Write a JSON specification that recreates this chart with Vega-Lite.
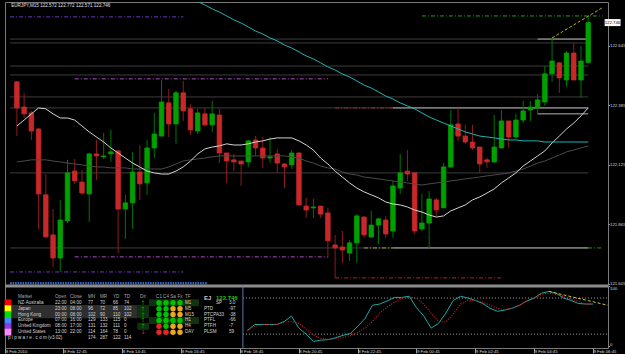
{
"$schema":"https://vega.github.io/schema/vega-lite/v6.json",
"background":"#000000",
"padding":{"left":3,"top":1,"right":0,"bottom":0},
"spacing":1,
"bounds":"flush",
"config":{"font":"Liberation Sans","view":{"stroke":"#7a7a7a","strokeWidth":1},
"axis":{"labelColor":"#d8d8d8","labelFontSize":4.3,"labelFont":"Liberation Sans","tickColor":"#9a9a9a","domain":false,"grid":false,"title":null},
"text":{"font":"Liberation Sans"}},
"resolve":{"scale":{"color":"independent","fill":"independent"}},
"datasets":{
"bars":[
{"t":"2010-02-08T11:00","o":122.487,"h":122.491,"l":122.250,"c":122.373,"m1":122.294,"m2":122.137},
{"t":"2010-02-08T11:15","o":122.377,"h":122.439,"l":122.329,"c":122.347,"m1":122.320,"m2":122.141},
{"t":"2010-02-08T11:30","o":122.351,"h":122.360,"l":122.233,"c":122.272,"m1":122.347,"m2":122.146},
{"t":"2010-02-08T11:45","o":122.281,"h":122.286,"l":121.844,"c":121.997,"m1":122.373,"m2":122.146},
{"t":"2010-02-08T12:00","o":121.993,"h":122.084,"l":121.805,"c":121.809,"m1":122.369,"m2":122.146},
{"t":"2010-02-08T12:15","o":121.818,"h":121.931,"l":121.678,"c":121.717,"m1":122.347,"m2":122.141},
{"t":"2010-02-08T12:30","o":121.717,"h":121.971,"l":121.656,"c":121.883,"m1":122.329,"m2":122.137},
{"t":"2010-02-08T12:45","o":121.879,"h":122.146,"l":121.870,"c":122.089,"m1":122.329,"m2":122.132},
{"t":"2010-02-08T13:00","o":122.097,"h":122.150,"l":122.041,"c":122.054,"m1":122.320,"m2":122.128},
{"t":"2010-02-08T13:15","o":122.049,"h":122.102,"l":121.993,"c":122.001,"m1":122.294,"m2":122.124},
{"t":"2010-02-08T13:30","o":121.997,"h":122.176,"l":121.875,"c":122.172,"m1":122.268,"m2":122.119},
{"t":"2010-02-08T13:45","o":122.172,"h":122.233,"l":122.058,"c":122.163,"m1":122.246,"m2":122.115},
{"t":"2010-02-08T14:00","o":122.159,"h":122.264,"l":122.150,"c":122.163,"m1":122.224,"m2":122.115},
{"t":"2010-02-08T14:15","o":122.172,"h":122.277,"l":122.137,"c":122.181,"m1":122.198,"m2":122.111},
{"t":"2010-02-08T14:30","o":122.185,"h":122.189,"l":121.739,"c":121.931,"m1":122.176,"m2":122.111},
{"t":"2010-02-08T14:45","o":121.931,"h":121.993,"l":121.800,"c":121.958,"m1":122.154,"m2":122.111},
{"t":"2010-02-08T15:00","o":121.958,"h":122.181,"l":121.844,"c":122.093,"m1":122.132,"m2":122.106},
{"t":"2010-02-08T15:15","o":122.093,"h":122.211,"l":121.971,"c":122.041,"m1":122.115,"m2":122.106},
{"t":"2010-02-08T15:30","o":122.045,"h":122.233,"l":121.993,"c":122.198,"m1":122.097,"m2":122.106},
{"t":"2010-02-08T15:45","o":122.198,"h":122.351,"l":122.154,"c":122.259,"m1":122.089,"m2":122.106},
{"t":"2010-02-08T16:00","o":122.250,"h":122.495,"l":122.250,"c":122.399,"m1":122.084,"m2":122.106},
{"t":"2010-02-08T16:15","o":122.395,"h":122.456,"l":122.246,"c":122.303,"m1":122.084,"m2":122.115},
{"t":"2010-02-08T16:30","o":122.303,"h":122.447,"l":122.216,"c":122.439,"m1":122.097,"m2":122.128},
{"t":"2010-02-08T16:45","o":122.439,"h":122.491,"l":122.316,"c":122.360,"m1":122.115,"m2":122.141},
{"t":"2010-02-08T17:00","o":122.369,"h":122.390,"l":122.255,"c":122.277,"m1":122.141,"m2":122.146,"m3":122.855},
{"t":"2010-02-08T17:15","o":122.272,"h":122.369,"l":122.259,"c":122.351,"m1":122.172,"m2":122.150,"m3":122.838},
{"t":"2010-02-08T17:30","o":122.347,"h":122.373,"l":122.290,"c":122.299,"m1":122.194,"m2":122.154,"m3":122.823},
{"t":"2010-02-08T17:45","o":122.299,"h":122.404,"l":122.268,"c":122.347,"m1":122.202,"m2":122.159,"m3":122.806},
{"t":"2010-02-08T18:00","o":122.342,"h":122.369,"l":122.132,"c":122.176,"m1":122.207,"m2":122.163,"m3":122.792},
{"t":"2010-02-08T18:15","o":122.176,"h":122.176,"l":122.045,"c":122.141,"m1":122.216,"m2":122.163,"m3":122.775},
{"t":"2010-02-08T18:30","o":122.146,"h":122.172,"l":122.097,"c":122.137,"m1":122.211,"m2":122.163,"m3":122.758},
{"t":"2010-02-08T18:45","o":122.141,"h":122.141,"l":122.032,"c":122.128,"m1":122.211,"m2":122.163,"m3":122.744},
{"t":"2010-02-08T19:00","o":122.137,"h":122.233,"l":122.115,"c":122.229,"m1":122.216,"m2":122.163,"m3":122.727,"k":26,"d":26},
{"t":"2010-02-08T19:15","o":122.233,"h":122.250,"l":122.163,"c":122.198,"m1":122.224,"m2":122.163,"m3":122.709,"k":36,"d":33},
{"t":"2010-02-08T19:30","o":122.198,"h":122.246,"l":122.111,"c":122.154,"m1":122.229,"m2":122.163,"m3":122.696,"k":36,"d":36},
{"t":"2010-02-08T19:45","o":122.154,"h":122.246,"l":122.132,"c":122.159,"m1":122.237,"m2":122.163,"m3":122.679,"k":36,"d":36},
{"t":"2010-02-08T20:00","o":122.172,"h":122.194,"l":122.089,"c":122.132,"m1":122.242,"m2":122.163,"m3":122.666,"k":36,"d":36},
{"t":"2010-02-08T20:15","o":122.128,"h":122.132,"l":122.023,"c":122.115,"m1":122.242,"m2":122.163,"m3":122.648,"k":41,"d":40},
{"t":"2010-02-08T20:30","o":122.124,"h":122.189,"l":122.106,"c":122.176,"m1":122.242,"m2":122.159,"m3":122.635,"k":50,"d":41},
{"t":"2010-02-08T20:45","o":122.176,"h":122.181,"l":121.944,"c":121.949,"m1":122.229,"m2":122.154,"m3":122.618,"k":30,"d":38},
{"t":"2010-02-08T21:00","o":121.944,"h":121.980,"l":121.892,"c":121.927,"m1":122.211,"m2":122.141,"m3":122.600,"k":20,"d":28},
{"t":"2010-02-08T21:15","o":121.936,"h":121.975,"l":121.892,"c":121.940,"m1":122.189,"m2":122.132,"m3":122.587,"k":8,"d":18},
{"t":"2010-02-08T21:30","o":121.944,"h":121.944,"l":121.892,"c":121.909,"m1":122.154,"m2":122.119,"m3":122.570,"k":10,"d":13},
{"t":"2010-02-08T21:45","o":121.914,"h":121.936,"l":121.717,"c":121.792,"m1":122.128,"m2":122.111,"m3":122.552,"k":11,"d":11},
{"t":"2010-02-08T22:00","o":121.774,"h":121.818,"l":121.630,"c":121.761,"m1":122.097,"m2":122.106,"m3":122.539,"k":14,"d":13},
{"t":"2010-02-08T22:15","o":121.765,"h":121.835,"l":121.695,"c":121.752,"m1":122.071,"m2":122.093,"m3":122.521,"k":18,"d":14},
{"t":"2010-02-08T22:30","o":121.739,"h":121.796,"l":121.704,"c":121.783,"m1":122.045,"m2":122.084,"m3":122.508,"k":21,"d":18},
{"t":"2010-02-08T22:45","o":121.783,"h":121.909,"l":121.695,"c":121.901,"m1":122.023,"m2":122.080,"m3":122.491,"k":33,"d":23},
{"t":"2010-02-08T23:00","o":121.896,"h":121.901,"l":121.805,"c":121.818,"m1":122.006,"m2":122.071,"m3":122.473,"k":46,"d":30},
{"t":"2010-02-08T23:15","o":121.809,"h":121.923,"l":121.805,"c":121.861,"m1":121.993,"m2":122.067,"m3":122.460,"k":68,"d":41},
{"t":"2010-02-08T23:30","o":121.861,"h":121.892,"l":121.778,"c":121.888,"m1":121.980,"m2":122.063,"m3":122.443,"k":70,"d":55},
{"t":"2010-02-08T23:45","o":121.883,"h":121.901,"l":121.805,"c":121.822,"m1":121.962,"m2":122.058,"m3":122.425,"k":75,"d":65},
{"t":"2010-02-09T00:00","o":121.835,"h":122.054,"l":121.805,"c":122.032,"m1":121.953,"m2":122.054,"m3":122.412,"k":81,"d":73},
{"t":"2010-02-09T00:15","o":122.023,"h":122.172,"l":121.997,"c":122.089,"m1":121.949,"m2":122.049,"m3":122.395,"k":81,"d":80},
{"t":"2010-02-09T00:30","o":122.097,"h":122.189,"l":122.054,"c":122.084,"m1":121.940,"m2":122.045,"m3":122.382,"k":83,"d":81},
{"t":"2010-02-09T00:45","o":122.089,"h":122.093,"l":121.822,"c":121.835,"m1":121.927,"m2":122.041,"m3":122.369,"k":64,"d":80},
{"t":"2010-02-09T01:00","o":121.844,"h":121.997,"l":121.835,"c":121.870,"m1":121.918,"m2":122.036,"m3":122.351,"k":50,"d":70},
{"t":"2010-02-09T01:15","o":121.870,"h":122.010,"l":121.757,"c":121.975,"m1":121.905,"m2":122.041,"m3":122.334,"k":30,"d":55},
{"t":"2010-02-09T01:30","o":121.971,"h":121.980,"l":121.901,"c":121.927,"m1":121.896,"m2":122.045,"m3":122.320,"k":38,"d":41},
{"t":"2010-02-09T01:45","o":121.936,"h":122.132,"l":121.936,"c":122.115,"m1":121.901,"m2":122.049,"m3":122.307,"k":55,"d":40},
{"t":"2010-02-09T02:00","o":122.115,"h":122.364,"l":122.111,"c":122.299,"m1":121.923,"m2":122.054,"m3":122.294,"k":76,"d":53},
{"t":"2010-02-09T02:15","o":122.303,"h":122.373,"l":122.229,"c":122.250,"m1":121.936,"m2":122.058,"m3":122.281,"k":83,"d":70},
{"t":"2010-02-09T02:30","o":122.250,"h":122.299,"l":122.216,"c":122.224,"m1":121.949,"m2":122.063,"m3":122.268,"k":80,"d":76},
{"t":"2010-02-09T02:45","o":122.224,"h":122.299,"l":122.189,"c":122.198,"m1":121.971,"m2":122.067,"m3":122.259,"k":76,"d":76},
{"t":"2010-02-09T03:00","o":122.202,"h":122.202,"l":122.089,"c":122.128,"m1":121.984,"m2":122.071,"m3":122.250,"k":71,"d":73},
{"t":"2010-02-09T03:15","o":122.146,"h":122.154,"l":122.111,"c":122.137,"m1":122.001,"m2":122.076,"m3":122.246,"k":63,"d":68},
{"t":"2010-02-09T03:30","o":122.137,"h":122.342,"l":122.132,"c":122.202,"m1":122.019,"m2":122.080,"m3":122.242,"k":58,"d":63},
{"t":"2010-02-09T03:45","o":122.198,"h":122.364,"l":122.198,"c":122.316,"m1":122.045,"m2":122.084,"m3":122.237,"k":60,"d":61},
{"t":"2010-02-09T04:00","o":122.316,"h":122.316,"l":122.198,"c":122.246,"m1":122.067,"m2":122.089,"m3":122.233,"k":63,"d":63},
{"t":"2010-02-09T04:15","o":122.246,"h":122.347,"l":122.237,"c":122.320,"m1":122.089,"m2":122.097,"m3":122.233,"k":68,"d":68},
{"t":"2010-02-09T04:30","o":122.320,"h":122.404,"l":122.307,"c":122.360,"m1":122.119,"m2":122.106,"m3":122.229,"k":75,"d":75},
{"t":"2010-02-09T04:45","o":122.364,"h":122.404,"l":122.316,"c":122.377,"m1":122.141,"m2":122.119,"m3":122.229,"k":80,"d":80},
{"t":"2010-02-09T05:00","o":122.373,"h":122.434,"l":122.347,"c":122.408,"m1":122.163,"m2":122.132,"m3":122.229,"k":88,"d":86},
{"t":"2010-02-09T05:15","o":122.399,"h":122.556,"l":122.382,"c":122.522,"m1":122.185,"m2":122.141,"m3":122.224,"k":91,"d":88},
{"t":"2010-02-09T05:30","o":122.522,"h":122.679,"l":122.487,"c":122.578,"m1":122.220,"m2":122.154,"m3":122.224,"k":88,"d":86},
{"t":"2010-02-09T05:45","o":122.570,"h":122.574,"l":122.439,"c":122.504,"m1":122.250,"m2":122.167,"m3":122.224,"k":80,"d":83},
{"t":"2010-02-09T06:00","o":122.495,"h":122.622,"l":122.465,"c":122.613,"m1":122.281,"m2":122.181,"m3":122.224,"k":76,"d":78},
{"t":"2010-02-09T06:15","o":122.613,"h":122.657,"l":122.495,"c":122.495,"m1":122.307,"m2":122.189,"m3":122.224,"k":71,"d":75},
{"t":"2010-02-09T06:30","o":122.495,"h":122.644,"l":122.417,"c":122.578,"m1":122.338,"m2":122.198,"m3":122.224,"k":70,"d":70},
{"t":"2010-02-09T06:45","o":122.572,"h":122.772,"l":122.571,"c":122.746,"m1":122.373,"m2":122.207,"m3":122.224,"k":70,"d":70}
],
"levels":[{"p":122.674},{"p":122.657},{"p":122.556},{"p":122.517},{"p":122.421},{"p":122.373},{"p":122.089},{"p":121.761}],
"sessions":[
{"s":"United Kingdom","t1":"2010-02-08T10:46","t2":"2010-02-08T16:45","p":122.771},
{"s":"United Kingdom","t1":"2010-02-08T10:46","t2":"2010-02-08T16:45","p":121.656},
{"s":"United States","t1":"2010-02-08T13:00","t2":"2010-02-08T21:45","p":122.500},
{"s":"United States","t1":"2010-02-08T13:00","t2":"2010-02-08T21:45","p":121.722},
{"s":"NZ-Australia","t1":"2010-02-08T22:00","t2":"2010-02-09T00:00","p":122.373},
{"s":"NZ-Australia","t1":"2010-02-08T22:00","t2":"2010-02-09T03:45","p":121.630},
{"s":"Japan","t1":"2010-02-08T23:00","t2":"2010-02-09T00:00","p":121.761},
{"s":"Hong Kong","t1":"2010-02-09T01:00","t2":"2010-02-09T07:15","p":122.775},
{"s":"Hong Kong","t1":"2010-02-09T06:45","t2":"2010-02-09T07:15","p":121.761}
],
"boxes":[
{"t1":"2010-02-09T00:00","t2":"2010-02-09T06:45","p":122.373},
{"t1":"2010-02-09T00:00","t2":"2010-02-09T06:45","p":121.761},
{"t1":"2010-02-09T05:00","t2":"2010-02-09T06:45","p":122.674},
{"t1":"2010-02-09T05:00","t2":"2010-02-09T06:45","p":122.347}
],
"trend":[{"t":"2010-02-09T05:30","p":122.679},{"t":"2010-02-09T07:15","p":122.812}],
"proj":[{"t":"2010-02-09T05:15","v":91},{"t":"2010-02-09T07:15","v":68}],
"osclevels":[{"v":80},{"v":20}],
"markets":[
{"r":1,"market":"NZ-Australia","dir":"up","open_now":false,"dir_flag":false,"sig_flag":true},
{"r":2,"market":"Japan","dir":"up","open_now":true,"dir_flag":true,"sig_flag":false},
{"r":3,"market":"Hong Kong","dir":"up","open_now":true,"dir_flag":true,"sig_flag":false},
{"r":4,"market":"Europe","dir":"up","open_now":false,"dir_flag":false,"sig_flag":true},
{"r":5,"market":"United Kingdom","dir":"up","open_now":false,"dir_flag":true,"sig_flag":false},
{"r":6,"market":"United States","dir":"down","open_now":false,"dir_flag":false,"sig_flag":false}
],
"cells":[
{"r":0,"c":1,"v":"Market"},{"r":0,"c":2,"v":"Open"},{"r":0,"c":3,"v":"Close"},{"r":0,"c":4,"v":"MN"},{"r":0,"c":5,"v":"MR"},{"r":0,"c":6,"v":"YD"},{"r":0,"c":7,"v":"TD"},{"r":0,"c":13,"v":"TF"},
{"r":1,"c":1,"v":"NZ-Australia"},{"r":1,"c":2,"v":"22:00"},{"r":1,"c":3,"v":"04:00"},{"r":1,"c":4,"v":"77"},{"r":1,"c":5,"v":"70"},{"r":1,"c":6,"v":"66"},{"r":1,"c":7,"v":"74"},{"r":1,"c":13,"v":"M1"},
{"r":2,"c":1,"v":"Japan"},{"r":2,"c":2,"v":"23:00"},{"r":2,"c":3,"v":"08:00"},{"r":2,"c":4,"v":"96"},{"r":2,"c":5,"v":"72"},{"r":2,"c":6,"v":"85"},{"r":2,"c":7,"v":"102"},{"r":2,"c":13,"v":"M5"},
{"r":3,"c":1,"v":"Hong Kong"},{"r":3,"c":2,"v":"00:00"},{"r":3,"c":3,"v":"08:00"},{"r":3,"c":4,"v":"102"},{"r":3,"c":5,"v":"90"},{"r":3,"c":6,"v":"110"},{"r":3,"c":7,"v":"102"},{"r":3,"c":13,"v":"M15"},
{"r":4,"c":1,"v":"Europe"},{"r":4,"c":2,"v":"07:00"},{"r":4,"c":3,"v":"16:00"},{"r":4,"c":4,"v":"129"},{"r":4,"c":5,"v":"133"},{"r":4,"c":6,"v":"115"},{"r":4,"c":7,"v":"0"},{"r":4,"c":13,"v":"H1"},
{"r":5,"c":1,"v":"United Kingdom"},{"r":5,"c":2,"v":"08:00"},{"r":5,"c":3,"v":"17:00"},{"r":5,"c":4,"v":"131"},{"r":5,"c":5,"v":"132"},{"r":5,"c":6,"v":"111"},{"r":5,"c":7,"v":"0"},{"r":5,"c":13,"v":"H4"},
{"r":6,"c":1,"v":"United States"},{"r":6,"c":2,"v":"13:00"},{"r":6,"c":3,"v":"22:00"},{"r":6,"c":4,"v":"114"},{"r":6,"c":5,"v":"164"},{"r":6,"c":6,"v":"78"},{"r":6,"c":7,"v":"0"},{"r":6,"c":13,"v":"DAY"},
{"r":7,"c":0,"v":"p i p w a r e . c o m (v3.02)"},{"r":7,"c":4,"v":"174"},{"r":7,"c":5,"v":"287"},{"r":7,"c":6,"v":"122"},{"r":7,"c":7,"v":"114"},
{"r":1,"c":15,"v":"SP"},{"r":1,"c":16,"v":"3.0"},
{"r":2,"c":14,"v":"PTD"},{"r":2,"c":16,"v":"-97"},
{"r":3,"c":14,"v":"PTCPA33"},{"r":3,"c":16,"v":"-38"},
{"r":4,"c":14,"v":"PTFL"},{"r":4,"c":16,"v":"-66"},
{"r":5,"c":14,"v":"PTFH"},{"r":5,"c":16,"v":"-7"},
{"r":6,"c":14,"v":"PLSM"},{"r":6,"c":16,"v":"59"}
],
"hdr":[{"r":0,"c":8,"v":"Dir"},{"r":0,"c":9,"v":"C1"},{"r":0,"c":10,"v":"C4"},{"r":0,"c":11,"v":"Sa"},{"r":0,"c":12,"v":"Fx"}],
"big":[{"r":0.2,"c":14,"v":"EJ"},{"r":0.2,"c":15,"v":"122.746"}],
"signals":[
{"r":1,"c":9,"s":"up"},{"r":1,"c":10,"s":"up"},{"r":1,"c":11,"s":"up"},{"r":1,"c":12,"s":"up"},
{"r":2,"c":9,"s":"up"},{"r":2,"c":10,"s":"up"},{"r":2,"c":11,"s":"flat"},{"r":2,"c":12,"s":"flat"},
{"r":3,"c":9,"s":"up"},{"r":3,"c":10,"s":"up"},{"r":3,"c":11,"s":"flat"},{"r":3,"c":12,"s":"flat"},
{"r":4,"c":9,"s":"up"},{"r":4,"c":10,"s":"up"},{"r":4,"c":11,"s":"up"},{"r":4,"c":12,"s":"up"},
{"r":5,"c":9,"s":"down"},{"r":5,"c":10,"s":"up"},{"r":5,"c":11,"s":"flat"},{"r":5,"c":12,"s":"flat"},
{"r":6,"c":9,"s":"down"},{"r":6,"c":10,"s":"down"},{"r":6,"c":11,"s":"flat"},{"r":6,"c":12,"s":"flat"}
]
},
"vconcat":[
{
"width":603,"height":283,
"layer":[
{"data":{"name":"levels"},"mark":{"type":"rule","color":"#3d3d3d","strokeWidth":1},
"encoding":{
"x":{"datum":{"year":2010,"month":2,"date":8,"hours":10,"minutes":45,"seconds":43},"type":"temporal","scale":{"domain":[{"year":2010,"month":2,"date":8,"hours":10,"minutes":45,"seconds":43},{"year":2010,"month":2,"date":9,"hours":7,"minutes":15,"seconds":36}],"nice":false},"axis":null},
"x2":{"datum":{"year":2010,"month":2,"date":9,"hours":6,"minutes":45}},
"y":{"field":"p","type":"quantitative","scale":{"domain":[121.599,122.836],"nice":false,"zero":false},
"axis":{"orient":"right","values":[121.605,121.670,121.735,121.800,121.865,121.930,121.995,122.060,122.125,122.190,122.255,122.320,122.385,122.450,122.515,122.580,122.645,122.710,122.775],"format":".3f","tickSize":1.5,"labelPadding":0,"labelOverlap":false,"labelBound":false,"labelFlush":false}}}},
{"data":{"name":"sessions"},"mark":{"type":"rule","strokeWidth":1,"strokeDash":[4,2,1,2]},
"encoding":{"x":{"field":"t1","type":"temporal"},"x2":{"field":"t2"},"y":{"field":"p","type":"quantitative"},
"color":{"field":"s","type":"nominal","legend":null,"scale":{"domain":["NZ-Australia","Japan","Hong Kong","Europe","United Kingdom","United States"],"range":["#a82828","#a8a020","#20a020","#3070d0","#6a3ac8","#b04cc8"]}}}},
{"data":{"name":"boxes"},"mark":{"type":"rule","color":"#b4b4b4","strokeWidth":1},
"encoding":{"x":{"field":"t1","type":"temporal"},"x2":{"field":"t2"},"y":{"field":"p","type":"quantitative"}}},
{"data":{"values":[{}]},"mark":{"type":"rule","color":"#3a6cd0","strokeWidth":2.5,"strokeDash":[1.5,1]},
"encoding":{"x":{"datum":{"year":2010,"month":2,"date":8,"hours":10,"minutes":46},"type":"temporal"},"x2":{"datum":{"year":2010,"month":2,"date":8,"hours":17,"minutes":36}},"y":{"datum":121.607,"type":"quantitative"}}},
{"data":{"name":"bars"},"mark":{"type":"rule","strokeWidth":1},
"encoding":{"x":{"field":"t","type":"temporal"},"y":{"field":"l","type":"quantitative"},"y2":{"field":"h"},
"color":{"condition":{"test":"datum.c >= datum.o","value":"#007400"},"value":"#8c1c1c"}}},
{"data":{"name":"bars"},"mark":{"type":"bar","size":4.5,"strokeWidth":0.8},
"encoding":{"x":{"field":"t","type":"temporal"},"y":{"field":"o","type":"quantitative"},"y2":{"field":"c"},
"fill":{"condition":{"test":"datum.c >= datum.o","value":"#00a000"},"value":"#c82828"},
"stroke":{"condition":{"test":"datum.c >= datum.o","value":"#00a000"},"value":"#c82828"}}},
{"data":{"name":"bars"},"mark":{"type":"line","color":"#4a4a4a","strokeWidth":1},
"encoding":{"x":{"field":"t","type":"temporal"},"y":{"field":"m2","type":"quantitative"}}},
{"data":{"name":"bars"},"mark":{"type":"line","color":"#d4d4d4","strokeWidth":1},
"encoding":{"x":{"field":"t","type":"temporal"},"y":{"field":"m1","type":"quantitative"}}},
{"data":{"name":"bars"},"mark":{"type":"line","color":"#1eb4b4","strokeWidth":1,"clip":true},
"encoding":{"x":{"field":"t","type":"temporal"},"y":{"field":"m3","type":"quantitative"}}},
{"data":{"name":"trend"},"mark":{"type":"line","color":"#b8b81e","strokeWidth":1,"strokeDash":[3,2]},
"encoding":{"x":{"field":"t","type":"temporal"},"y":{"field":"p","type":"quantitative"}}},
{"data":{"values":[{}]},"mark":{"type":"text","align":"left","baseline":"middle","fontSize":4.6,"color":"#e0e0e0","dx":1},
"encoding":{"x":{"datum":{"year":2010,"month":2,"date":8,"hours":10,"minutes":46},"type":"temporal"},"y":{"datum":122.819,"type":"quantitative"},
"text":{"value":"EURJPY,M15 122.572 122.772 122.571 122.746"}}},
{"data":{"values":[{}]},"mark":{"type":"rule","color":"#ffffff","strokeWidth":7},
"encoding":{"x":{"datum":{"year":2010,"month":2,"date":9,"hours":7,"minutes":19},"type":"temporal"},"x2":{"datum":{"year":2010,"month":2,"date":9,"hours":7,"minutes":52}},"y":{"datum":122.746,"type":"quantitative"}}},
{"data":{"values":[{}]},"mark":{"type":"text","align":"left","baseline":"middle","fontSize":4.3,"color":"#000000"},
"encoding":{"x":{"datum":{"year":2010,"month":2,"date":9,"hours":7,"minutes":19},"type":"temporal"},"y":{"datum":122.746,"type":"quantitative"},"text":{"value":"122.746"}}}
]
},
{
"width":603,"height":62,
"resolve":{"scale":{"x":"independent","y":"independent","color":"independent","fill":"independent"}},
"layer":[
{"layer":[
{"data":{"values":[{}]},"mark":{"type":"rule","color":"#8c8c8c","strokeWidth":3},
"encoding":{"y":{"datum":100,"type":"quantitative","scale":{"domain":[-3,100],"nice":false,"zero":false},
"axis":{"orient":"right","values":[0,20,80,100],"format":"d","tickSize":1.5,"labelPadding":0,"labelOverlap":false,"labelFlush":3}}}},
{"data":{"name":"osclevels"},"mark":{"type":"rule","color":"#c8c8c8","strokeWidth":0.8,"strokeDash":[1,2]},
"encoding":{"x":{"datum":{"year":2010,"month":2,"date":8,"hours":18,"minutes":51},"type":"temporal","scale":{"domain":[{"year":2010,"month":2,"date":8,"hours":10,"minutes":45,"seconds":43},{"year":2010,"month":2,"date":9,"hours":7,"minutes":15,"seconds":36}],"nice":false},
"axis":{"orient":"bottom","values":[
{"year":2010,"month":2,"date":8,"hours":10,"minutes":46},
{"year":2010,"month":2,"date":8,"hours":11,"minutes":45},{"year":2010,"month":2,"date":8,"hours":12,"minutes":45},{"year":2010,"month":2,"date":8,"hours":13,"minutes":45},{"year":2010,"month":2,"date":8,"hours":14,"minutes":45},{"year":2010,"month":2,"date":8,"hours":15,"minutes":45},{"year":2010,"month":2,"date":8,"hours":16,"minutes":45},{"year":2010,"month":2,"date":8,"hours":17,"minutes":45},{"year":2010,"month":2,"date":8,"hours":18,"minutes":45},{"year":2010,"month":2,"date":8,"hours":19,"minutes":45},{"year":2010,"month":2,"date":8,"hours":20,"minutes":45},{"year":2010,"month":2,"date":8,"hours":21,"minutes":45},{"year":2010,"month":2,"date":8,"hours":22,"minutes":45},{"year":2010,"month":2,"date":8,"hours":23,"minutes":45},
{"year":2010,"month":2,"date":9,"hours":0,"minutes":45},{"year":2010,"month":2,"date":9,"hours":1,"minutes":45},{"year":2010,"month":2,"date":9,"hours":2,"minutes":45},{"year":2010,"month":2,"date":9,"hours":3,"minutes":45},{"year":2010,"month":2,"date":9,"hours":4,"minutes":45},{"year":2010,"month":2,"date":9,"hours":5,"minutes":45},{"year":2010,"month":2,"date":9,"hours":6,"minutes":45}],
"labelExpr":"hours(datum.value) == 10 ? '8 Feb 2010' : timeFormat(datum.value, '%-d %b %H:%M')",
"labelAlign":"left","labelBaseline":"top","labelPadding":-4,"labelDx":1.5,"tickSize":5,"labelOverlap":false,"labelFlush":false,"labelBound":false}},
"x2":{"datum":{"year":2010,"month":2,"date":9,"hours":7,"minutes":15,"seconds":36}},
"y":{"field":"v","type":"quantitative"}}},
{"data":{"values":[{}]},"mark":{"type":"rule","color":"#5a78a8","strokeWidth":1},
"encoding":{"x":{"datum":{"year":2010,"month":2,"date":8,"hours":18,"minutes":51},"type":"temporal"}}},
{"data":{"name":"bars"},"mark":{"type":"line","color":"#1ea8a8","strokeWidth":1},
"encoding":{"x":{"field":"t","type":"temporal"},"y":{"field":"k","type":"quantitative"}}},
{"data":{"name":"bars"},"mark":{"type":"line","color":"#c81e1e","strokeWidth":1.2,"strokeDash":[1,1.5]},
"encoding":{"x":{"field":"t","type":"temporal"},"y":{"field":"d","type":"quantitative"}}},
{"data":{"name":"proj"},"mark":{"type":"line","color":"#c8c828","strokeWidth":1,"strokeDash":[3,2]},
"encoding":{"x":{"field":"t","type":"temporal"},"y":{"field":"v","type":"quantitative"}}}
]},
{"layer":[
{"data":{"name":"markets"},"transform":[{"filter":"datum.open_now"}],"mark":{"type":"bar","orient":"horizontal","size":7.3,"color":"#2e2e2e"},
"encoding":{"x":{"datum":0.4,"type":"quantitative","axis":null,"scale":{"domain":[0,1,2,3,4,5,6,7,8,9,10,11,12,13,14,15,16],"range":[3,13,50,65,83,95,108,119,138,154,161,168,175,180,199,211,224],"zero":false,"nice":false}},
"x2":{"datum":7.7},
"y":{"field":"r","type":"quantitative","axis":null,"scale":{"domain":[0,7],"range":[6,57],"zero":false,"nice":false}}}},
{"data":{"name":"markets"},"transform":[{"filter":"datum.dir_flag"}],"mark":{"type":"bar","orient":"horizontal","size":7,"color":"#0e330e"},
"encoding":{"x":{"datum":7.7,"type":"quantitative"},"x2":{"datum":8.38},"y":{"field":"r","type":"quantitative"}}},
{"data":{"name":"markets"},"transform":[{"filter":"datum.sig_flag"}],"mark":{"type":"bar","orient":"horizontal","size":7,"color":"#0e330e"},
"encoding":{"x":{"datum":8.38,"type":"quantitative"},"x2":{"datum":13.74},"y":{"field":"r","type":"quantitative"}}},
{"data":{"name":"markets"},"mark":{"type":"point","shape":"square","filled":true,"size":46,"opacity":1},
"encoding":{"x":{"datum":0,"type":"quantitative"},"y":{"field":"r","type":"quantitative"},
"fill":{"field":"market","type":"nominal","legend":null,"scale":{"domain":["NZ-Australia","Japan","Hong Kong","Europe","United Kingdom","United States"],"range":["#ff0000","#ffff00","#00e000","#3f8cff","#8c3ce0","#ff88ff"]}}}},
{"data":{"name":"cells"},"mark":{"type":"text","align":"left","baseline":"middle","fontSize":4.6},
"encoding":{"x":{"field":"c","type":"quantitative"},"y":{"field":"r","type":"quantitative"},"text":{"field":"v"},
"color":{"condition":{"test":"datum.r == 0","value":"#a8a8a8"},"value":"#d4d4d4"}}},
{"data":{"name":"hdr"},"mark":{"type":"text","align":"center","baseline":"middle","fontSize":4.6,"color":"#a8a8a8"},
"encoding":{"x":{"field":"c","type":"quantitative"},"y":{"field":"r","type":"quantitative"},"text":{"field":"v"}}},
{"data":{"name":"markets"},"mark":{"type":"text","align":"center","baseline":"middle","fontSize":6,"font":"DejaVu Sans"},
"encoding":{"x":{"datum":8,"type":"quantitative"},"y":{"field":"r","type":"quantitative"},
"text":{"condition":{"test":"datum.dir == 'up'","value":"↑"},"value":"↓"},
"color":{"condition":{"test":"datum.dir == 'up'","value":"#00b000"},"value":"#e02020"}}},
{"data":{"name":"signals"},"mark":{"type":"point","shape":"circle","filled":true,"size":30,"opacity":1},
"encoding":{"x":{"field":"c","type":"quantitative"},"y":{"field":"r","type":"quantitative"},
"color":{"field":"s","type":"nominal","legend":null,"scale":{"domain":["up","flat","down"],"range":["#00c000","#e8a820","#e02828"]}}}},
{"data":{"name":"big"},"mark":{"type":"text","align":"left","baseline":"middle","fontSize":6,"fontWeight":"bold"},
"encoding":{"x":{"field":"c","type":"quantitative"},"y":{"field":"r","type":"quantitative"},"text":{"field":"v"},
"color":{"condition":{"test":"datum.c == 15","value":"#22c022"},"value":"#c8c8c8"}}}
]}
]
}
]
}
